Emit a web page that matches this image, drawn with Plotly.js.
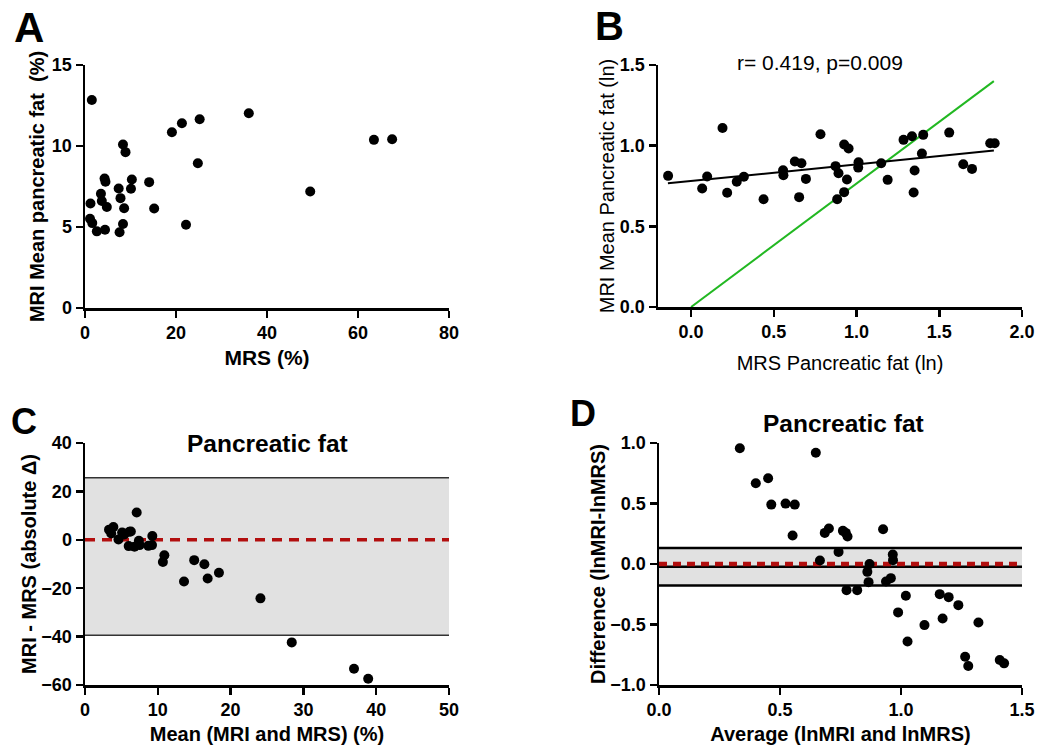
<!DOCTYPE html>
<html>
<head>
<meta charset="utf-8">
<script src="https://cdn.plot.ly/plotly-3.0.1.min.js"></script>
<style>
  html, body { margin: 0; padding: 0; background: #fff; }
  #chart { width: 1039px; height: 747px; }
</style>
</head>
<body>
<div id="chart"></div>
<script>
// Panel A: MRS fat (%) vs MRI mean pancreatic fat (%)
const mrsPct = [1.5, 36.0, 21.3, 25.2, 19.1, 63.5, 67.5, 8.35, 8.9, 24.8, 4.3, 4.5, 10.3, 14.1, 7.4, 10.1,
                3.5, 49.5, 7.8, 3.7, 1.2, 4.8, 8.6, 15.2, 1.1, 1.6, 2.6, 4.4, 7.6, 8.35, 22.2];
const mriPct = [12.84, 12.02, 11.40, 11.65, 10.85, 10.38, 10.42, 10.09, 9.62, 8.94, 7.99, 7.79, 7.93, 7.77, 7.38, 7.36,
                7.05, 7.19, 6.78, 6.60, 6.45, 6.23, 6.16, 6.14, 5.51, 5.24, 4.73, 4.83, 4.68, 5.18, 5.14];

// Panel B: log-transformed values
const mrsLn = [-0.139, 0.067, 0.097, 0.19, 0.218, 0.276, 0.319, 0.438, 0.556, 0.558, 0.627, 0.667, 0.653, 0.694,
               0.782, 0.873, 0.891, 0.883, 0.925, 0.952, 0.942, 0.925, 1.012, 1.01, 1.149, 1.188, 1.284, 1.335,
               1.403, 1.395, 1.351, 1.345, 1.56, 1.645, 1.698, 1.808, 1.835];
const mriLn = [0.813, 0.734, 0.809, 1.11, 0.708, 0.776, 0.807, 0.668, 0.848, 0.817, 0.902, 0.891, 0.681, 0.794,
               1.071, 0.873, 0.829, 0.668, 1.007, 0.982, 0.790, 0.712, 0.897, 0.864, 0.891, 0.788, 1.036, 1.058,
               1.067, 0.951, 0.846, 0.710, 1.081, 0.885, 0.856, 1.015, 1.015];
const fitX = [-0.14, 1.83];
const fitSlope = 0.103;
const fitIntercept = 0.781;
const refLineX = [0, 1.83];
const refLineY = [0, 1.40];
const statText = 'r= 0.419, p=0.009';

// Panel C: Bland-Altman, absolute values
const meanAbs = [3.3, 3.9, 3.6, 4.6, 5.1, 5.4, 6.1, 6.3, 6.0, 6.8, 7.1, 7.4, 7.5, 8.7, 9.25, 9.2, 10.7, 10.9,
                 13.6, 15.0, 16.4, 16.85, 18.4, 24.1, 28.4, 36.95, 38.9];
const diffAbs = [4.2, 5.3, 2.6, 0.1, 3.0, 2.2, 3.3, 3.4, -2.6, -2.9, 11.25, -0.4, -2.2, -2.5, 1.6, -2.2, -9.2, -6.4,
                 -17.2, -8.4, -10.1, -16.0, -13.6, -24.2, -42.4, -53.3, -57.4];
const limitsAbs = [-39.4, 25.6];
const refAbs = 0;

// Panel D: Bland-Altman, log values
const meanLn = [0.334, 0.648, 0.400, 0.451, 0.464, 0.523, 0.561, 0.552, 0.685, 0.702, 0.760, 0.779, 0.772, 0.742,
                0.665, 0.775, 0.819, 0.870, 0.861, 0.866, 0.926, 0.966, 0.967, 0.938, 0.958, 1.020, 0.988, 1.027,
                1.097, 1.160, 1.197, 1.172, 1.237, 1.320, 1.265, 1.278, 1.408, 1.426];
const diffLn = [0.956, 0.920, 0.667, 0.708, 0.491, 0.499, 0.491, 0.235, 0.257, 0.293, 0.274, 0.227, 0.257, 0.100,
                0.029, -0.216, -0.216, -0.001, -0.065, -0.150, 0.287, 0.078, 0.032, -0.144, -0.117, -0.263, -0.400,
                -0.640, -0.505, -0.249, -0.274, -0.450, -0.340, -0.483, -0.766, -0.843, -0.794, -0.821];
const limitsLn = [-0.177, 0.133];
const biasLn = -0.023;
const refLn = 0;

const panelTitle = 'Pancreatic fat';

const W = 1039, H = 747;
const px = v => v / W;
const py = v => 1 - v / H;

const FAMILY = 'Liberation Sans, Arial, sans-serif';
const boldTick = { family: FAMILY, size: 18, color: '#000', weight: 'bold' };
const boldTitleA = { family: FAMILY, size: 21, color: '#000', weight: 'bold' };
const boldTitle = { family: FAMILY, size: 20, color: '#000', weight: 'bold' };
const plainTitle = { family: FAMILY, size: 20, color: '#000' };

function axis(extra) {
  return Object.assign({
    showline: true, linewidth: 2.5, linecolor: '#000',
    ticks: 'outside', ticklen: 7, tickwidth: 2.5, tickcolor: '#000',
    showgrid: false, zeroline: false, tickfont: boldTick, fixedrange: true
  }, extra);
}

const dot = { color: '#000', size: 10 };

const traces = [
  { x: mrsPct, y: mriPct, type: 'scatter', mode: 'markers', marker: dot, xaxis: 'x', yaxis: 'y' },
  { x: refLineX, y: refLineY, type: 'scatter', mode: 'lines', line: { color: '#22b822', width: 2 }, xaxis: 'x2', yaxis: 'y2' },
  { x: fitX, y: fitX.map(v => fitIntercept + fitSlope * v), type: 'scatter', mode: 'lines',
    line: { color: '#000', width: 2 }, xaxis: 'x2', yaxis: 'y2' },
  { x: mrsLn, y: mriLn, type: 'scatter', mode: 'markers', marker: dot, xaxis: 'x2', yaxis: 'y2' },
  { x: [0, 50], y: [refAbs, refAbs], type: 'scatter', mode: 'lines',
    line: { color: '#b20e0e', width: 3.5, dash: '10px,7px' }, xaxis: 'x3', yaxis: 'y3' },
  { x: meanAbs, y: diffAbs, type: 'scatter', mode: 'markers', marker: dot, xaxis: 'x3', yaxis: 'y3' },
  { x: [0, 1.5], y: [biasLn, biasLn], type: 'scatter', mode: 'lines',
    line: { color: '#000', width: 2.5 }, xaxis: 'x4', yaxis: 'y4' },
  { x: [0, 1.5], y: [refLn, refLn], type: 'scatter', mode: 'lines',
    line: { color: '#b20e0e', width: 4.5, dash: '8px,6px' }, xaxis: 'x4', yaxis: 'y4' },
  { x: meanLn, y: diffLn, type: 'scatter', mode: 'markers', marker: dot, xaxis: 'x4', yaxis: 'y4' }
];

const letterFont = size => ({ family: FAMILY, size: size, color: '#000', weight: 'bold' });

const layout = {
  width: W, height: H,
  margin: { l: 0, r: 0, t: 0, b: 0 },
  paper_bgcolor: '#fff', plot_bgcolor: 'rgba(0,0,0,0)',
  showlegend: false,
  xaxis: axis({ domain: [px(85), px(449)], anchor: 'y', range: [0, 80], tickvals: [0, 20, 40, 60, 80],
    title: { text: 'MRS (%)', font: boldTitleA, standoff: 8 } }),
  yaxis: axis({ domain: [py(308), py(65)], anchor: 'x', range: [0, 15], tickvals: [0, 5, 10, 15],
    title: { text: 'MRI Mean pancreatic fat  (%)', font: boldTitle, standoff: 2 } }),
  xaxis2: axis({ domain: [px(658), px(1022)], anchor: 'y2', range: [-0.2, 2.0], tickvals: [0, 0.5, 1, 1.5, 2],
    tickformat: '.1f', title: { text: 'MRS Pancreatic fat (ln)', font: plainTitle, standoff: 15 } }),
  yaxis2: axis({ domain: [py(307), py(65)], anchor: 'x2', range: [0, 1.5], tickvals: [0, 0.5, 1, 1.5],
    tickformat: '.1f', title: { text: 'MRI Mean Pancreatic fat (ln)', font: plainTitle, standoff: 0 } }),
  xaxis3: axis({ domain: [px(85), px(449)], anchor: 'y3', range: [0, 50], tickvals: [0, 10, 20, 30, 40, 50],
    title: { text: 'Mean (MRI and MRS) (%)', font: boldTitle, standoff: 8 } }),
  yaxis3: axis({ domain: [py(685), py(443)], anchor: 'x3', range: [-60, 40], tickvals: [-60, -40, -20, 0, 20, 40],
    title: { text: 'MRI - MRS (absolute Δ)', font: boldTitle, standoff: 0 } }),
  xaxis4: axis({ domain: [px(659), px(1022)], anchor: 'y4', range: [0, 1.5], tickvals: [0, 0.5, 1, 1.5],
    tickformat: '.1f', title: { text: 'Average (lnMRI and lnMRS)', font: boldTitle, standoff: 8 } }),
  yaxis4: axis({ domain: [py(685), py(443)], anchor: 'x4', range: [-1, 1], tickvals: [-1, -0.5, 0, 0.5, 1],
    tickformat: '.1f', title: { text: 'Difference (lnMRI-lnMRS)', font: boldTitle, standoff: 0 } }),
  shapes: [
    { type: 'rect', xref: 'x3', yref: 'y3', x0: 0, x1: 50, y0: limitsAbs[0], y1: limitsAbs[1],
      fillcolor: '#e1e1e1', line: { width: 0 }, layer: 'below' },
    { type: 'line', xref: 'x3', yref: 'y3', x0: 0, x1: 50, y0: limitsAbs[1], y1: limitsAbs[1],
      line: { color: '#333', width: 1.5 } },
    { type: 'line', xref: 'x3', yref: 'y3', x0: 0, x1: 50, y0: limitsAbs[0], y1: limitsAbs[0],
      line: { color: '#333', width: 1.5 } },
    { type: 'rect', xref: 'x4', yref: 'y4', x0: 0, x1: 1.5, y0: limitsLn[0], y1: limitsLn[1],
      fillcolor: '#e1e1e1', line: { width: 0 }, layer: 'below' },
    { type: 'line', xref: 'x4', yref: 'y4', x0: 0, x1: 1.5, y0: limitsLn[1], y1: limitsLn[1],
      line: { color: '#000', width: 2.5 } },
    { type: 'line', xref: 'x4', yref: 'y4', x0: 0, x1: 1.5, y0: limitsLn[0], y1: limitsLn[0],
      line: { color: '#000', width: 2.5 } }
  ],
  annotations: [
    { text: 'A', xref: 'paper', yref: 'paper', x: px(12), y: py(27), xanchor: 'left', yanchor: 'middle',
      showarrow: false, font: letterFont(42) },
    { text: 'B', xref: 'paper', yref: 'paper', x: px(593), y: py(26), xanchor: 'left', yanchor: 'middle',
      showarrow: false, font: letterFont(40) },
    { text: 'C', xref: 'paper', yref: 'paper', x: px(9), y: py(421), xanchor: 'left', yanchor: 'middle',
      showarrow: false, font: letterFont(36) },
    { text: 'D', xref: 'paper', yref: 'paper', x: px(568), y: py(413), xanchor: 'left', yanchor: 'middle',
      showarrow: false, font: letterFont(36) },
    { text: statText, xref: 'paper', yref: 'paper', x: px(820), y: py(63), xanchor: 'center', yanchor: 'middle',
      showarrow: false, font: { family: FAMILY, size: 21, color: '#000' } },
    { text: panelTitle, xref: 'paper', yref: 'paper', x: px(267), y: py(443), xanchor: 'center', yanchor: 'middle',
      showarrow: false, font: letterFont(24.5) },
    { text: panelTitle, xref: 'paper', yref: 'paper', x: px(843), y: py(423), xanchor: 'center', yanchor: 'middle',
      showarrow: false, font: letterFont(24.5) }
  ]
};

Plotly.newPlot('chart', traces, layout, { displayModeBar: false, staticPlot: true });
</script>
</body>
</html>
